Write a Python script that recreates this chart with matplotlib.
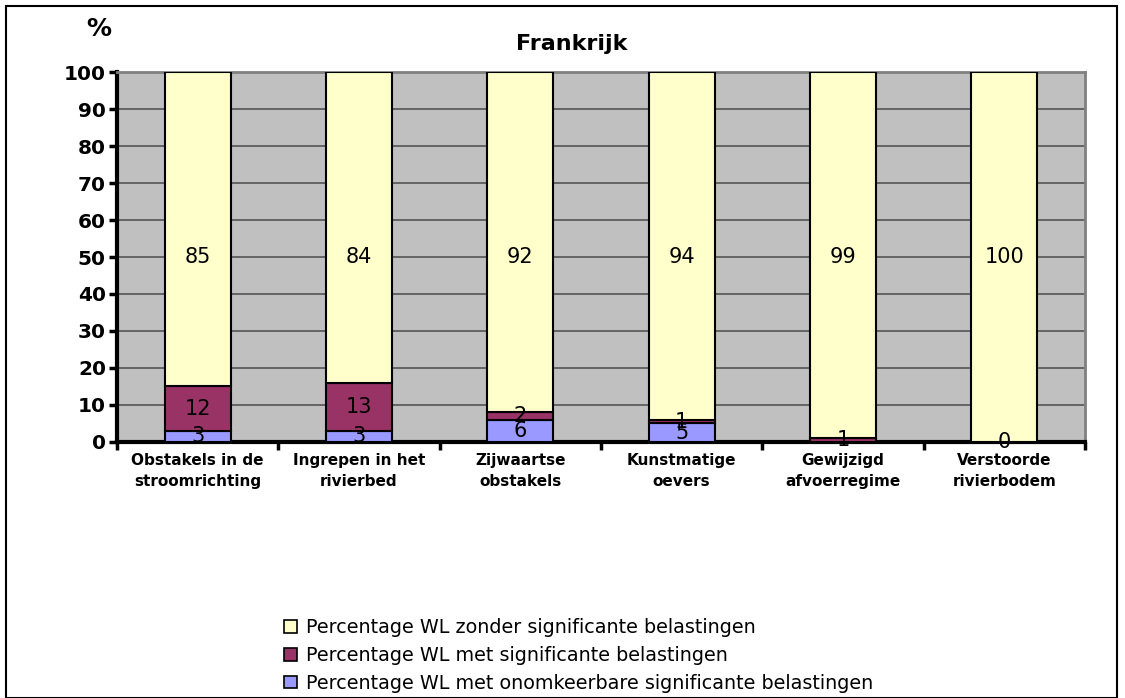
import numpy as np
import matplotlib.pyplot as plt
from matplotlib.patches import Patch

# Frankrijk - percentage waterlichamen per belastingtype
categories = ['Obstakels in de\nstroomrichting', 'Ingrepen in het\nrivierbed',
              'Zijwaartse\nobstakels', 'Kunstmatige\noevers',
              'Gewijzigd\nafvoerregime', 'Verstoorde\nrivierbodem']
onomkeerbaar = [3, 3, 6, 5, np.nan, np.nan]
met_belasting = [12, 13, 2, 1, 1, 0]
zonder_belasting = [85, 84, 92, 94, 99, 100]

series_names = ['Percentage WL zonder significante belastingen',
                'Percentage WL met significante belastingen',
                'Percentage WL met onomkeerbare significante belastingen']
colors = ['#FFFFCC', '#993366', '#9999FF']

fig = plt.figure(figsize=(11.25, 6.98), dpi=100)
ax = fig.add_axes([0.104, 0.3668, 0.8604, 0.5300])
ax.set_facecolor('#C0C0C0')

x = np.arange(len(categories))
w = 0.41
bottom = np.zeros(len(categories))
stack = [onomkeerbaar, met_belasting, zonder_belasting]
stack_colors = [colors[2], colors[1], colors[0]]
for k, (vals, c) in enumerate(zip(stack, stack_colors)):
    v = np.nan_to_num(np.array(vals, dtype=float))
    ax.bar(x, v, w, bottom=bottom, color=c, edgecolor='black', linewidth=1.5, zorder=3)
    for i, val in enumerate(vals):
        if np.isnan(val):
            continue
        # top segment label sits in the middle of the full column (like Excel did)
        ypos = (bottom[i] + v[i]) / 2 if k == 2 else bottom[i] + v[i] / 2
        ax.text(x[i], ypos, '%d' % val, ha='center', va='center',
                fontsize=15, family='DejaVu Sans', zorder=4)
    bottom += v

ax.set_xlim(-0.5, len(categories) - 0.5)
ax.set_ylim(0, 100)
ax.set_yticks(range(0, 101, 10))
ax.yaxis.grid(True, color='#555555', linewidth=1.2, zorder=1)
ax.set_axisbelow(True)
ax.tick_params(axis='y', length=6, width=2.5, direction='out', labelsize=14.5, pad=2)
for lab in ax.get_yticklabels():
    lab.set_fontweight('bold')
    lab.set_family('DejaVu Sans')

ax.set_xticks(x)
ax.set_xticklabels(categories, fontsize=11, fontweight='bold', family='DejaVu Sans',
                   linespacing=1.5)
ax.tick_params(axis='x', length=0, pad=8)
ax.set_xticks(np.arange(-0.5, len(categories)), minor=True)
ax.tick_params(axis='x', which='minor', length=6, width=2.5, direction='out')

for side in ['left', 'bottom']:
    ax.spines[side].set_linewidth(3)
    ax.spines[side].set_color('black')
for side in ['top', 'right']:
    ax.spines[side].set_linewidth(2)
    ax.spines[side].set_color('#808080')

fig.text(0.508, 0.937, 'Frankrijk', ha='center', va='center', fontsize=16,
         fontweight='bold', family='DejaVu Sans')
fig.text(0.088, 0.958, '%', ha='center', va='center', fontsize=18,
         fontweight='bold', family='DejaVu Sans')

handles = [Patch(facecolor=c, edgecolor='black', linewidth=1.2) for c in colors]
fig.legend(handles, series_names, loc='upper left', bbox_to_anchor=(0.246, 0.125),
           frameon=False, fontsize=13.8, handlelength=0.65, handleheight=0.65,
           handletextpad=0.5, labelspacing=0.45, borderaxespad=0)

# outer frame of the chart
fig.patches.append(plt.Rectangle((0.005, 0.0), 0.988, 0.991, transform=fig.transFigure,
                                 fill=False, edgecolor='black', linewidth=1.5))

fig.savefig('out.png', dpi=100)
